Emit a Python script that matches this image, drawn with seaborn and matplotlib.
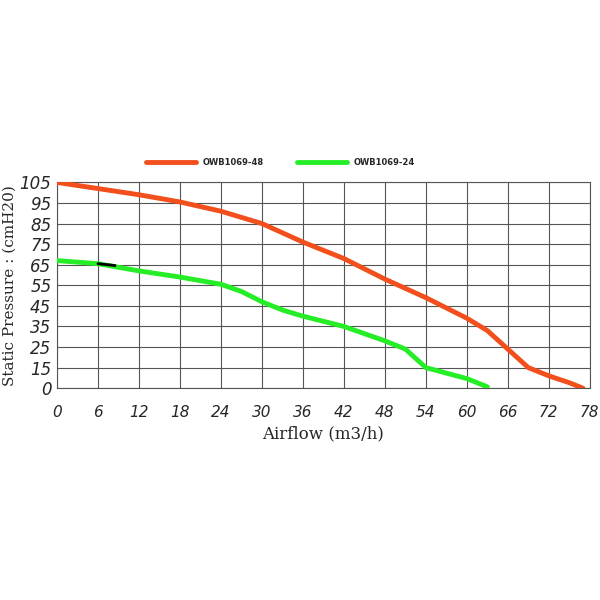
import numpy as np
import matplotlib
matplotlib.use("Agg")
import matplotlib.pyplot as plt
import seaborn as sns
import pandas as pd

x48 = [0, 6, 12, 18, 24, 30, 36, 42, 48, 54, 60, 63, 66, 69, 72, 75, 77]
y48 = [105, 102, 99, 95.5, 91, 85, 76, 68, 58, 49, 39, 33, 24, 15, 9, 4, 0]
x24 = [0, 6, 12, 18, 24, 27, 30, 33, 36, 42, 48, 51, 54, 57, 60, 63]
y24 = [67, 65.5, 62, 59, 55.5, 52, 47, 43, 40, 35, 28, 24, 15, 11, 7, 1]
xticks = list(range(0, 79, 6))
yticks = [0, 15, 25, 35, 45, 55, 65, 75, 85, 95, 105]
ypos = list(range(len(yticks)))

sns.set_theme(style="white")
fig = plt.figure(figsize=(6, 6), dpi=100)
ax = fig.add_axes([0.095, 0.353, 0.888, 0.343])

fwd = lambda v: np.interp(v, yticks, ypos)
inv = lambda v: np.interp(v, ypos, yticks)
ax.set_yscale('function', functions=(fwd, inv))

df48 = pd.DataFrame({"x": x48, "y": y48})
df24 = pd.DataFrame({"x": x24, "y": y24})
sns.lineplot(data=df48, x="x", y="y", ax=ax, color="#f24f1c", lw=3.5, label="OWB1069-48", zorder=3)
sns.lineplot(data=df24, x="x", y="y", ax=ax, color="#26ee26", lw=3.5, label="OWB1069-24", zorder=3)
ax.plot([6, 8.5], [65.5, 64.6], color="black", lw=2, zorder=4)

ax.set_xlim(0, 78)
ax.set_ylim(0, 105)
ax.set_xticks(xticks)
ax.set_yticks(yticks)
ax.set_xticklabels([str(t) for t in xticks], style="italic", fontsize=11)
ax.set_yticklabels([str(t) for t in yticks], style="italic", fontsize=12)
ax.tick_params(axis="x", pad=12, length=0)
ax.tick_params(axis="y", pad=4, length=0)
ax.grid(True, color="#555555", lw=0.8)
for s in ax.spines.values():
    s.set_color("#555555")
    s.set_linewidth(0.8)
ax.set_xlabel("Airflow (m3/h)", family="DejaVu Serif", fontsize=12)
ax.set_ylabel("Static Pressure : (cmH20)", family="DejaVu Serif", fontsize=11, labelpad=2)
ax.legend(loc="lower center", bbox_to_anchor=(0.42, 1.04), ncol=2, frameon=False,
          prop={"size": 6, "weight": "bold"}, handlelength=6, columnspacing=4)
fig.savefig("out.png", dpi=100, facecolor="white")
